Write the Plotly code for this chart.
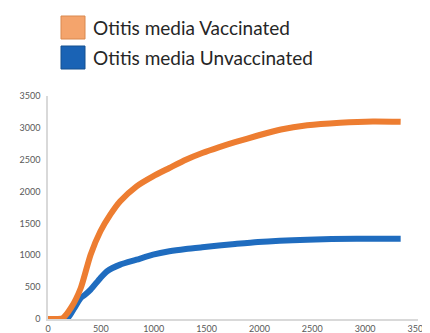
import plotly.graph_objects as go

# Data
vacc_x = [0, 60, 140, 217, 310, 403, 496, 589, 683, 838, 993, 1148, 1304, 1459, 1614, 1769, 1986, 2204, 2452, 2763, 3073, 3336]
vacc_y = [0, 0, 15, 173, 487, 1010, 1377, 1637, 1848, 2083, 2240, 2370, 2500, 2606, 2695, 2775, 2880, 2975, 3040, 3080, 3100, 3095]

unvacc_x = [0, 80, 186, 249, 310, 350, 403, 496, 559, 683, 838, 993, 1148, 1304, 1459, 1769, 1986, 2452, 2917, 3336]
unvacc_y = [0, 0, 15, 173, 330, 380, 460, 644, 749, 853, 931, 1010, 1063, 1099, 1126, 1177, 1209, 1245, 1261, 1261]

legend_labels = ["Otitis media Vaccinated", "Otitis media Unvaccinated"]
x_ticks = [0, 500, 1000, 1500, 2000, 2500, 3000, 3500]
y_ticks = [0, 500, 1000, 1500, 2000, 2500, 3000, 3500]

ORANGE = "#ED7D31"
BLUE = "#1F6CBF"

L, R, T, B = 40, 20, 88, 22
PW = 430 - L - R
PH = 333 - T - B

fig = go.Figure()
fig.add_trace(go.Scatter(x=unvacc_x, y=unvacc_y, mode="lines", name=legend_labels[1],
                         line=dict(color=BLUE, width=6, shape="spline", smoothing=0.6),
                         showlegend=False))
fig.add_trace(go.Scatter(x=vacc_x, y=vacc_y, mode="lines", name=legend_labels[0],
                         line=dict(color=ORANGE, width=6, shape="spline", smoothing=0.6),
                         showlegend=False))

# Legend drawn as swatches + text (paper coordinates)
fills = ["#F4A46C", "#1A63B5"]
borders = ["#D9884E", "#14508F"]
tops = [8, 38]
for lab, fc, bc, t in zip(legend_labels, fills, borders, tops):
    fig.add_shape(type="rect", xref="paper", yref="paper",
                  x0=(53 - L) / PW, x1=(77 - L) / PW,
                  y0=(333 - B - (t + 23)) / PH, y1=(333 - B - t) / PH,
                  fillcolor=fc, line=dict(color=bc, width=1))
    fig.add_annotation(text=lab, xref="paper", yref="paper",
                       x=(83 - L) / PW, y=(333 - B - (t + 11.5)) / PH,
                       xanchor="left", yanchor="middle", showarrow=False,
                       font=dict(family="Lato", size=19, color="#262626"))

axis_common = dict(showgrid=False, zeroline=False, showline=True,
                   linecolor="#D9D9D9", linewidth=1.5, ticks="",
                   tickfont=dict(family="Lato", size=9, color="#595959"))
fig.update_xaxes(range=[0, 3500], tickvals=x_ticks, **axis_common)
fig.update_yaxes(range=[0, 3500], tickvals=y_ticks, ticklabelstandoff=4, **axis_common)

fig.update_layout(width=430, height=333,
                  margin=dict(l=L, r=R, t=T, b=B, autoexpand=False),
                  paper_bgcolor="white", plot_bgcolor="white")

fig.write_html("out.html")
